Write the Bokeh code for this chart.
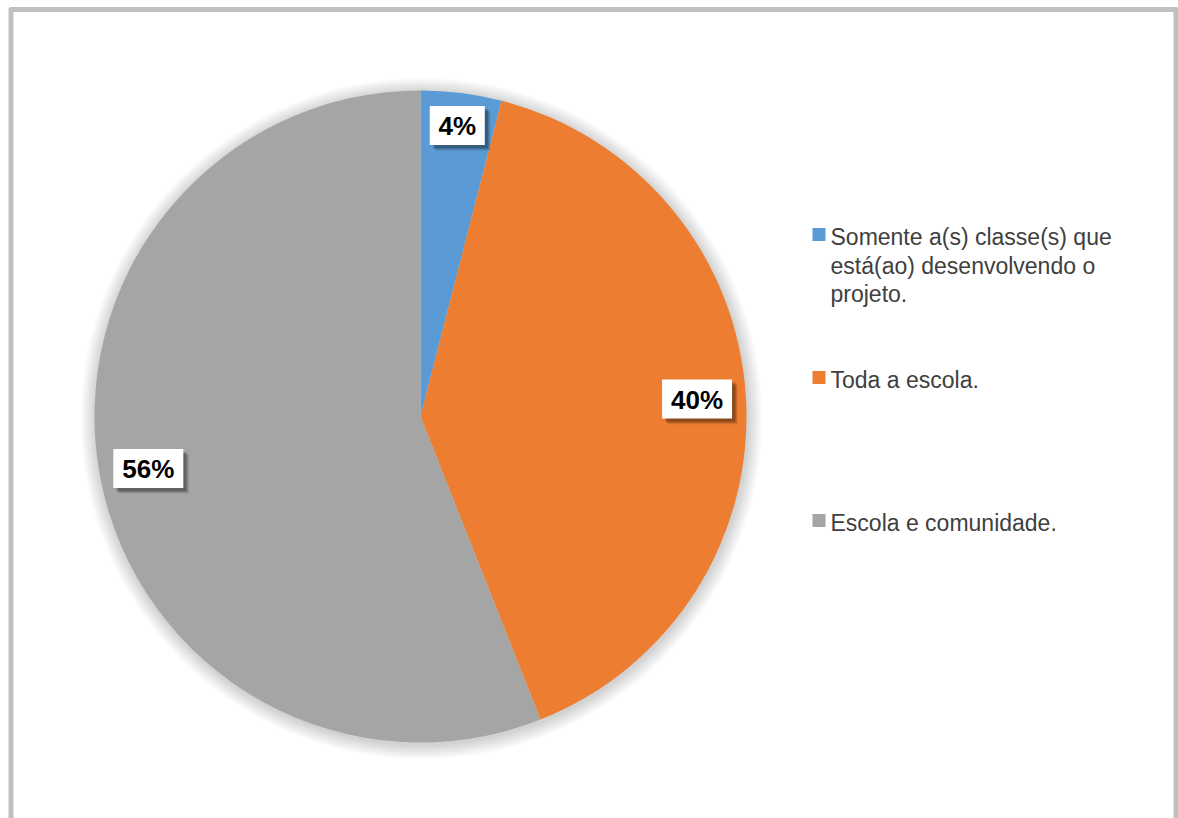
import math
import textwrap
from bokeh.plotting import figure
from bokeh.models import Range1d, ColumnDataSource
from bokeh.core.properties import value
from bokeh.embed import file_html
from bokeh.resources import INLINE

# ---- data ----
categories = [
    "Somente a(s) classe(s) que está(ao) desenvolvendo o projeto.",
    "Toda a escola.",
    "Escola e comunidade.",
]
percent = [4, 40, 56]
colors = ["#5B9BD5", "#ED7D31", "#A5A5A5"]

# ---- layout (pixels, y measured from bottom) ----
W, H = 1178, 818
cx, cy, R = 420, H - 416, 326
label_r_frac = [0.90, 0.85, 0.85]

p = figure(width=W, height=H, x_range=Range1d(0, W), y_range=Range1d(0, H),
           min_border=0, toolbar_location=None, output_backend="svg")
p.axis.visible = False
p.grid.visible = False
p.outline_line_color = None
p.background_fill_color = "white"
p.border_fill_color = "white"

# frame
p.line([10.5, 10.5, 1175.5, 1175.5], [-20, H - 9, H - 9, -20],
       line_color="#BFBFBF", line_width=5, line_join="round")

# soft shadow around pie
for k in range(1, 16):
    p.circle(x=cx + 1, y=cy - 2, radius=R + k, fill_color="black",
             fill_alpha=0.010, line_color=None)

total = sum(percent)
starts, ends, mids = [], [], []
acc = 0.0
for v in percent:
    a0 = math.pi / 2 - 2 * math.pi * acc / total
    acc += v
    a1 = math.pi / 2 - 2 * math.pi * acc / total
    starts.append(a0)
    ends.append(a1)
    mids.append((a0 + a1) / 2)

src = ColumnDataSource(dict(start=starts, end=ends, color=colors))
p.wedge(x=cx, y=cy, radius=R, start_angle="start", end_angle="end",
        direction="clock", fill_color="color", line_color=None, source=src)

# data labels
labels = [f"{v}%" for v in percent]
lx = [cx + f * R * math.cos(m) for f, m in zip(label_r_frac, mids)]
ly = [cy + f * R * math.sin(m) for f, m in zip(label_r_frac, mids)]
bw = [len(t) * 15 + 25 for t in labels]
bh = 39
for off, a in [(6, 0.06), (5, 0.10), (4, 0.14), (3, 0.18)]:
    p.rect(x=[x + off for x in lx], y=[y - off for y in ly], width=bw,
           height=bh, fill_color="black", fill_alpha=a, line_color=None)
p.rect(x=lx, y=ly, width=bw, height=bh, fill_color="white", line_color=None)
p.text(x=lx, y=[y - 1 for y in ly], text=labels, text_align="center",
       text_baseline="middle",
       text_font=value("Liberation Sans"), text_font_style="bold",
       text_font_size="26px", text_color="black")

# legend
leg_x, leg_top, leg_step = 812, H - 235.5, 143
sq = 13
line_h = 28.5
for i, (cat, col) in enumerate(zip(categories, colors)):
    yc = leg_top - i * leg_step
    p.rect(x=leg_x + sq / 2, y=yc + 1.5, width=sq, height=sq, fill_color=col,
           line_color=None)
    lines = textwrap.wrap(cat, 26)
    p.text(x=[leg_x + 18] * len(lines),
           y=[yc - 1 - j * line_h for j in range(len(lines))],
           text=lines, text_align="left", text_baseline="alphabetic",
           text_font=value("Liberation Sans"), text_font_size="23px",
           text_color="#404040")

open("out.html", "w").write(file_html(p, INLINE))
